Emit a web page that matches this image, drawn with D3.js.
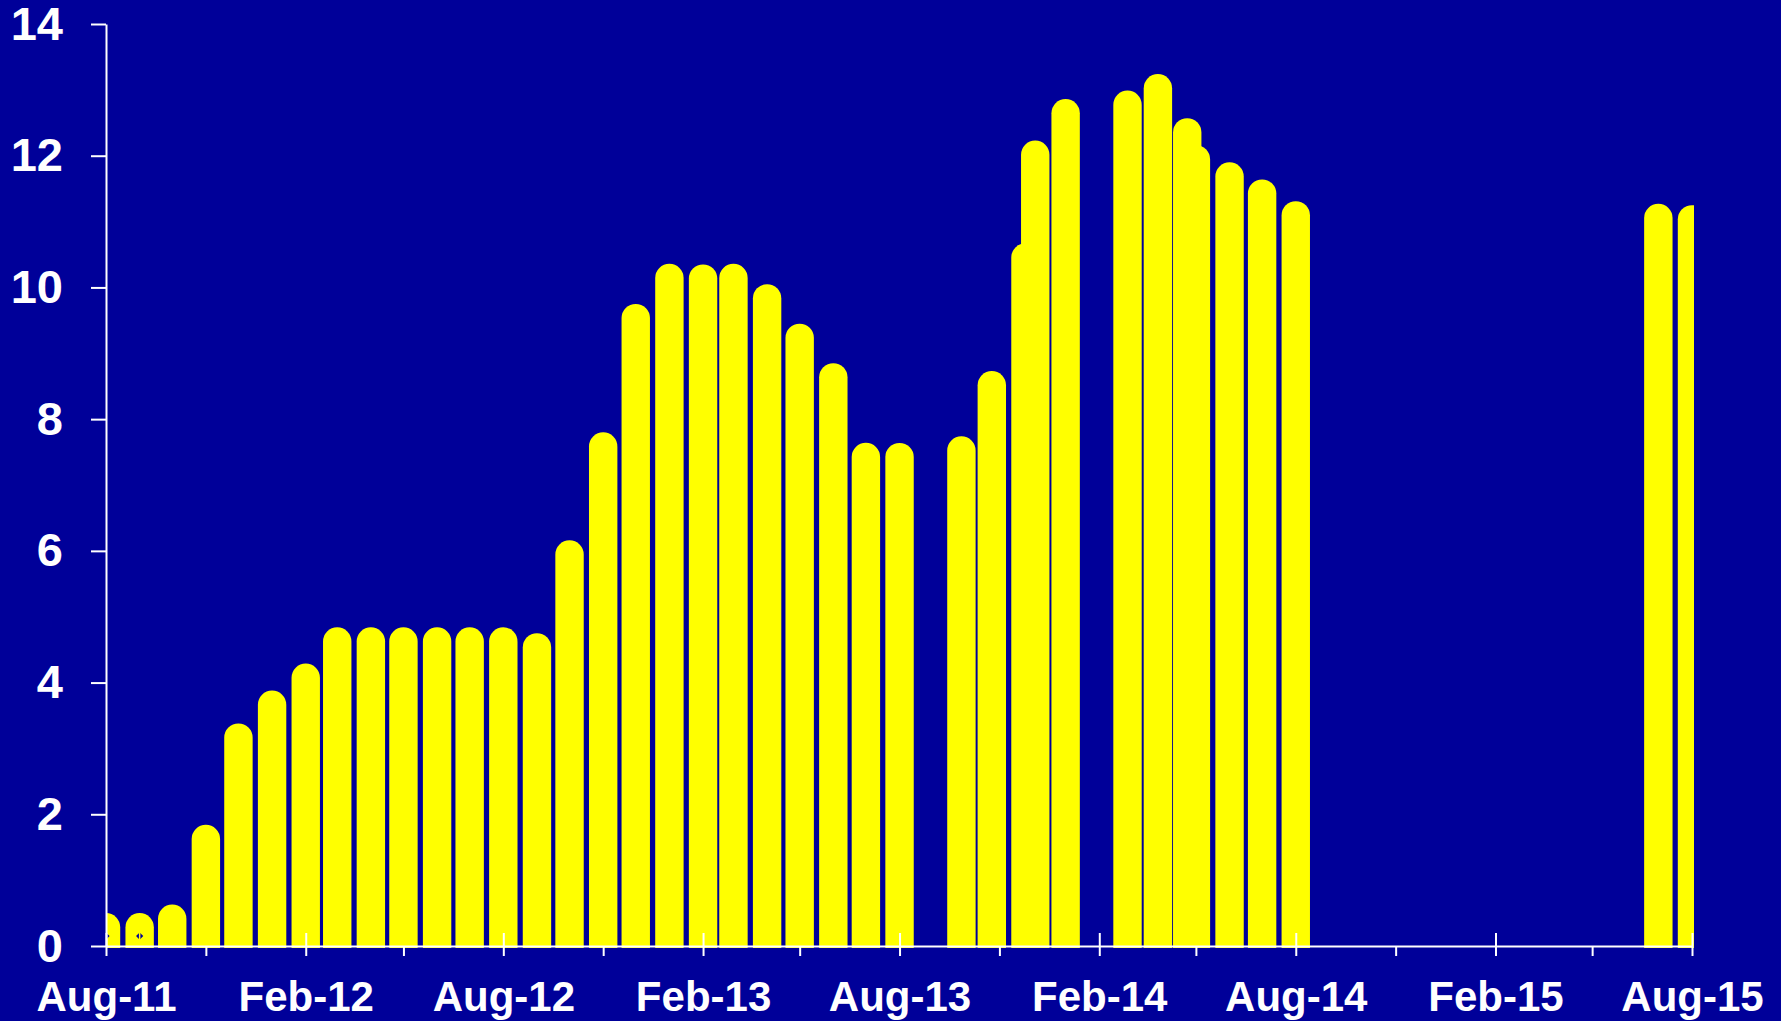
<!DOCTYPE html>
<html>
<head>
<meta charset="utf-8">
<script src="https://cdn.jsdelivr.net/npm/d3@7"></script>
<style>
  body{margin:0;background:#000099;overflow:hidden}
  text{font-family:"Liberation Sans",Arial,sans-serif;font-weight:bold;fill:#fff}
</style>
</head>
<body>
<div id="stage"></div>
<script>

// bar dates and values, array order = drawing order
var dates=[
  "2011-08-01","2011-09-01","2011-10-01","2011-11-01","2011-12-01",
  "2012-01-01","2012-02-01","2012-03-01","2012-04-01","2012-05-01",
  "2012-06-01","2012-07-01","2012-08-01","2012-09-01","2012-10-01",
  "2012-11-01","2012-12-01","2013-01-01","2013-02-01","2013-03-01",
  "2013-04-01","2013-05-01","2013-06-01","2013-07-01","2013-08-01",
  "2013-09-27","2013-10-25","2013-11-25","2013-12-04","2014-01-01",
  "2014-02-27","2014-03-27","2014-05-01","2014-04-23","2014-06-01",
  "2014-07-01","2014-08-01","2015-07-01","2015-08-01"
];
var values=[
  0.50,0.50,0.63,1.84,3.38,
  3.88,4.29,4.84,4.84,4.84,
  4.84,4.84,4.84,4.75,6.16,
  7.80,9.75,10.36,10.35,10.36,
  10.05,9.45,8.85,7.64,7.64,
  7.74,8.73,10.67,12.23,12.86,
  12.99,13.24,12.16,12.57,11.90,
  11.64,11.31,11.27,11.25
];

// little marker series near the bottom of the first two bars
var markerDates=["2011-08-01","2011-09-01"];
var markerValues=[0.15,0.15];

var yTicks=[0,2,4,6,8,10,12,14];
var xStart="2011-08-01", xEnd="2015-08-01";

var W=1781, H=1021;
var parse=d3.utcParse("%Y-%m-%d");
var fmt=d3.utcFormat("%b-%y");

var bars=dates.map(function(d,i){ return {date:parse(d), value:values[i]}; });
var marks=markerDates.map(function(d,i){ return {date:parse(d), value:markerValues[i]}; });

var x=d3.scaleUtc().domain([parse(xStart),parse(xEnd)]).range([106,1692]);
var y=d3.scaleLinear().domain([0,14]).range([946,24]);

var svg=d3.select("#stage").append("svg")
  .attr("width",W).attr("height",H);

svg.append("rect").attr("width",W).attr("height",H).attr("fill","#000099");

svg.append("clipPath").attr("id","plot")
  .append("rect").attr("x",106).attr("y",0).attr("width",1694-106).attr("height",H);

var bw=28.4, r=bw/2;
function barPath(d){
  var l=x(d.date)-bw/2, rt=x(d.date)+bw/2, t=y(d.value), b=y(0)+2;
  return "M"+l+","+b+"V"+(t+r)+"A"+r+","+r+" 0 0 1 "+rt+","+(t+r)+"V"+b+"Z";
}

var g=svg.append("g").attr("clip-path","url(#plot)");
g.selectAll("path.bar")
  .data(bars)
  .enter().append("path")
  .attr("class","bar")
  .attr("d",barPath)
  .attr("fill","#ffff00");

var mk=g.selectAll("g.mk").data(marks).enter().append("g")
  .attr("transform",function(d){ return "translate("+x(d.date)+","+y(d.value)+")"; });
mk.append("path")
  .attr("d",d3.symbol().type(d3.symbolSquare).size(26))
  .attr("transform","rotate(45)")
  .attr("fill","#000099");
mk.append("line").attr("y1",-4).attr("y2",4).attr("stroke","#ffff00").attr("stroke-width",1.5);

// x axis, ticks every 3 months starting Aug, labels on Feb/Aug
var xTicks=d3.utcMonth.range(parse(xStart),d3.utcDay.offset(parse(xEnd),1))
  .filter(function(d,i){ return i%3==0; });
function isMajor(d){ return d.getUTCMonth()==1 || d.getUTCMonth()==7; }

var xa=svg.append("g").attr("transform","translate(0,"+y(0)+")")
  .call(d3.axisBottom(x).tickValues(xTicks).tickSize(10).tickSizeOuter(0).tickPadding(25)
    .tickFormat(function(d){ return isMajor(d)?fmt(d):""; }));
xa.selectAll(".tick").filter(isMajor).select("line").attr("y1",-13);
xa.selectAll("text").attr("font-size",42);

var ya=svg.append("g").attr("transform","translate(106,0)")
  .call(d3.axisLeft(y).tickValues(yTicks).tickSize(15).tickSizeOuter(0).tickPadding(28));
ya.selectAll("text").attr("font-size",47);

svg.selectAll(".domain,.tick line").attr("stroke","#ffffff").attr("stroke-width",2);
svg.selectAll(".tick text").attr("fill","#ffffff").attr("font-family",null);

</script>
</body>
</html>
